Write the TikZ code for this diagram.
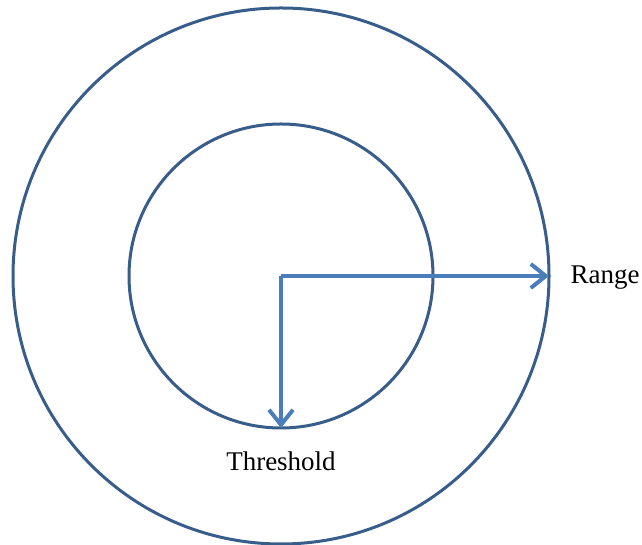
\documentclass[tikz,border=0pt]{standalone}
\usepackage{fontspec}
\setmainfont{Liberation Serif}
\usetikzlibrary{positioning, arrows.meta}

\definecolor{ringblue}{HTML}{385D8A}
\definecolor{arrowblue}{HTML}{4A7EBB}

\tikzset{
  ring/.style={draw=ringblue, line width=3pt, circle, inner sep=0pt, outer sep=0pt},
  radius arrow/.style={draw=arrowblue, line width=4pt, line join=round,
    -{Straight Barb[length=15pt, width=24pt, line width=4pt]}},
  label text/.style={font=\fontsize{27}{32}\selectfont}
}

\begin{document}
\begin{tikzpicture}[x=1pt, y=1pt]
    \useasboundingbox (0,0) rectangle (642,545);
    \coordinate (c) at (281,269);

    % the two rings
    \node[ring, minimum size=536pt] (outer) at (c) {};
    \node[ring, minimum size=304pt] (inner) at (c) {};

    % radii
    \draw[radius arrow] (c) -- (outer.east);
    \draw[radius arrow] (c) -- (inner.south);

    \node[label text, right=18pt of outer.east, yshift=-2pt] (range) {Range};
    \node[label text, below=20pt of inner.south] (threshold) {Threshold};
\end{tikzpicture}
\end{document}
